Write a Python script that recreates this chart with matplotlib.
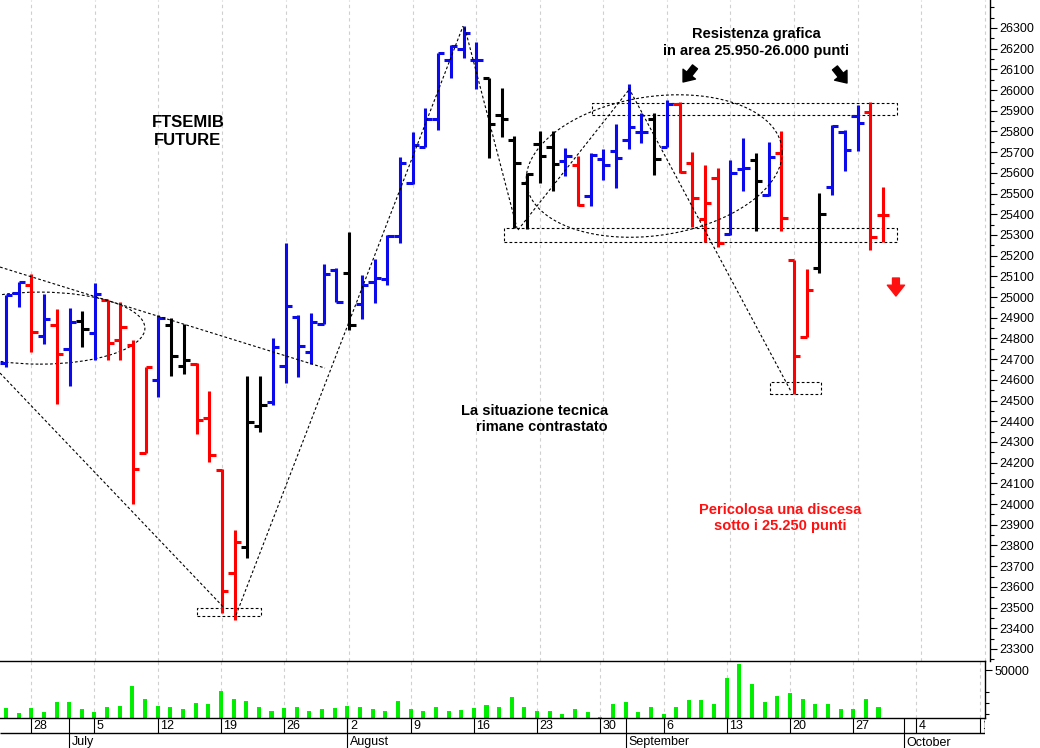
import matplotlib.pyplot as plt
import numpy as np
import pandas as pd
from matplotlib.patches import Rectangle, Ellipse
from matplotlib.ticker import FixedLocator

plt.rcParams['font.family'] = ['Liberation Sans', 'DejaVu Sans']

# FTSEMIB future, daily OHLC (24 Jun - 29 Sep 2021)
opens = [24680, 25020, 25060, 24810, 24865, 24750, 24885, 24825, 24985, 24795,
         24770, 24245, 24600, 24865, 24665, 24675, 24415, 24165, 23665, 23795,
         24375, 24495, 24665, 24905, 24735, 24870, 25130, 25115, 24965, 25075,
         25085, 25295, 25550, 25725, 25860, 26145, 26200, 26145, 26060, 25880,
         25760, 25550, 25740, 25725, 25655, 25640, 25490, 25665, 25705, 25760,
         25795, 25860, 25725, 25935, 25650, 25375, 25575, 25305, 25620, 25660,
         25495, 25695, 25180, 24805, 25140, 25530, 25795, 25875, 25895, 25395]
highs = [25010, 25075, 25110, 25015, 24940, 24945, 24935, 25070, 24985, 24975,
         24795, 24660, 24915, 24900, 24870, 24680, 24545, 24170, 23875, 24620,
         24620, 24800, 25260, 24915, 24925, 25160, 25140, 25315, 25105, 25185,
         25300, 25675, 25795, 25915, 26180, 26220, 26310, 26230, 26060, 26010,
         25780, 25600, 25800, 25800, 25720, 25680, 25695, 25715, 25835, 26030,
         25890, 25890, 25950, 25940, 25700, 25640, 25625, 25660, 25770, 25695,
         25750, 25800, 25180, 25135, 25505, 25830, 25805, 25930, 25940, 25530]
lows = [24660, 24950, 24735, 24775, 24485, 24570, 24760, 24695, 24695, 24695,
        24000, 24245, 24515, 24620, 24630, 24340, 24205, 23475, 23440, 23740,
        24350, 24480, 24585, 24615, 24675, 24870, 24975, 24840, 24895, 24970,
        25060, 25260, 25545, 25725, 25805, 26060, 26155, 26005, 25670, 25775,
        25335, 25330, 25550, 25510, 25585, 25440, 25440, 25565, 25525, 25715,
        25745, 25590, 25725, 25600, 25340, 25265, 25240, 25300, 25510, 25320,
        25490, 25320, 24530, 24805, 25115, 25495, 25610, 25705, 25225, 25265]
closes = [25010, 25075, 24830, 24895, 24725, 24880, 24845, 25015, 24780, 24855,
          24170, 24660, 24900, 24715, 24695, 24405, 24235, 23580, 23815, 24395,
          24480, 24760, 24955, 24765, 24880, 25110, 24975, 24865, 25060, 25090,
          25295, 25650, 25735, 25860, 26180, 26215, 26275, 26145, 25835, 25860,
          25650, 25595, 25680, 25645, 25680, 25445, 25685, 25640, 25670, 25820,
          25795, 25665, 25935, 25605, 25480, 25455, 25260, 25600, 25625, 25560,
          25675, 25380, 24715, 25035, 25400, 25825, 25710, 25840, 25290, 25395]
# 1 = rialzo (blu), -1 = ribasso (rosso), 0 = neutro (nero)
trend = [1, 1, -1, 1, -1, 1, 0, 1, -1, -1,
         -1, -1, 1, 0, 0, -1, -1, -1, -1, 0,
         0, 1, 1, 1, 1, 1, 1, 0, 1, 1,
         1, 1, 1, 1, 1, 1, 1, 1, 0, 0,
         0, 0, 0, 0, 1, -1, 1, 1, 1, 1,
         1, 0, 1, -1, -1, -1, -1, 1, 1, 0,
         1, -1, -1, -1, 0, 1, 1, 1, -1, -1]
volumes = [15200, 10600, 15200, 12100, 20600, 20600, 14300, 12100, 16600, 17300,
           35700, 23600, 17600, 16100, 14300, 19700, 19100, 30900, 23600, 21800,
           16600, 13000, 15700, 16600, 12700, 14300, 15200, 17600, 16100, 14300,
           12700, 21800, 14600, 13000, 16100, 13000, 13600, 15700, 17900, 16100,
           25200, 16100, 13000, 13000, 9700, 14300, 12100, 7000, 18800, 20600,
           12100, 16100, 10000, 16100, 22700, 22700, 19400, 42500, 55200, 37300,
           20900, 26600, 28800, 23600, 19400, 19400, 14300, 14300, 23600, 16100]

price_ticks = list(range(23300, 26301, 100))
dates = pd.bdate_range('2021-06-24', '2021-10-20')

W, H = 1040, 748


def px_box(x0, y0, x1, y1):
    return [x0 / W, 1 - y1 / H, (x1 - x0) / W, (y1 - y0) / H]


x = np.arange(len(opens))
pos = np.arange(len(dates))
mondays = pos[dates.weekday == 0]
month_starts = pos[1:][dates.month[1:] != dates.month[:-1]]
xlim = (-0.47, 77.42)

color_map = {1: '#0a0aec', -1: '#ff0000', 0: '#000000'}
cols = [color_map[t] for t in trend]

fig = plt.figure(figsize=(10.4, 7.48), dpi=100)
ax = fig.add_axes(px_box(0, 0, 990, 661))
axv = fig.add_axes(px_box(0, 661, 985, 718))
axd = fig.add_axes(px_box(0, 718, 985, 748))

# --- price panel
for m in mondays:
    ax.axvline(m, color='#cfcfcf', lw=0.8, ls=(0, (3, 3)), zorder=0)
    axv.axvline(m, color='#cfcfcf', lw=0.8, ls=(0, (3, 3)), zorder=0)

ax.vlines(x, lows, highs, colors=cols, lw=2.2)
ax.hlines(opens, x - 0.5, x, colors=cols, lw=2.2)
ax.hlines(closes, x, x + 0.5, colors=cols, lw=2.2)

ax.set_xlim(*xlim)
ax.set_ylim(23242, 26435)
for s in ['left', 'top', 'bottom']:
    ax.spines[s].set_visible(False)
ax.spines['right'].set_linewidth(1)
ax.set_xticks([])
ax.yaxis.tick_right()
ax.yaxis.set_major_locator(FixedLocator(price_ticks))
ax.yaxis.set_minor_locator(FixedLocator(list(range(23250, 26436, 50))))
ax.tick_params(axis='y', which='major', length=5, width=0.8, pad=2, labelsize=9)
ax.tick_params(axis='y', which='minor', length=3, width=0.8)

# dashed study lines
dash = dict(color='black', lw=0.8, ls=(0, (2.5, 2)))
ax.plot([-0.47, 25.1], [25145, 24657], **dash)
ax.plot([-0.47, 17.1], [24633, 23503], **dash)
ax.plot([18.1, 35.96], [23464, 26309], **dash)
ax.plot([36.1, 40.2], [26300, 25334], **dash)
ax.plot([40.28, 49.0], [25324, 26000], **dash)
ax.plot([49.0, 61.8], [26010, 24540], **dash)
ax.add_patch(Ellipse((2.68, 24850), 16.5, 348, fill=False, **dash))
t = np.linspace(0, 2 * np.pi, 300)
ax.plot(51.0 + 10.07 * np.cos(t),
        25633 + 338 * np.sin(t) + 6.45 * 10.07 * np.cos(t), **dash)
for (i0, i1, p0, p1) in [(46.08, 70.08, 25880, 25936),
                         (39.18, 70.08, 25265, 25332),
                         (60.11, 64.12, 24532, 24588),
                         (15.05, 20.04, 23459, 23496)]:
    ax.add_patch(Rectangle((i0, p0), i1 - i0, p1 - p0, fill=False, **dash))

# arrows
arr = 'simple,head_length=0.6,head_width=0.95,tail_width=0.38'
ax.annotate('', xy=(53.27, 26039), xytext=(54.21, 26112),
            arrowprops=dict(arrowstyle=arr, color='black', mutation_scale=12,
                            shrinkA=0, shrinkB=0))
ax.annotate('', xy=(66.17, 26034), xytext=(65.22, 26107),
            arrowprops=dict(arrowstyle=arr, color='black', mutation_scale=12,
                            shrinkA=0, shrinkB=0))
ax.annotate('', xy=(70.02, 25005), xytext=(70.02, 25092),
            arrowprops=dict(arrowstyle=arr, color='#ff1010', mutation_scale=13,
                            shrinkA=0, shrinkB=0))

# texts
ax.text(14.32, 25800, 'FTSEMIB\nFUTURE', ha='center', va='center',
        fontsize=12, fontweight='bold', linespacing=1.2)
ax.text(59.0, 26230, 'Resistenza grafica\nin area 25.950-26.000 punti',
        ha='center', va='center', fontsize=10.5, fontweight='bold',
        linespacing=1.2)
ax.text(47.36, 24411, 'La situazione tecnica\nrimane contrastato',
        ha='right', va='center', multialignment='right', fontsize=10.5,
        fontweight='bold', linespacing=1.2)
ax.text(60.94, 23933, 'Pericolosa una discesa\nsotto i 25.250 punti',
        ha='center', va='center', fontsize=10.5, fontweight='bold',
        color='#ff1010', linespacing=1.2)

# --- volume panel
axv.bar(x, volumes, width=0.32, color='#00ee00')
axv.set_xlim(*xlim)
axv.set_ylim(6400, 58200)
axv.spines['left'].set_visible(False)
for s in ['top', 'bottom', 'right']:
    axv.spines[s].set_linewidth(1)
axv.set_xticks([])
axv.yaxis.tick_right()
axv.yaxis.set_major_locator(FixedLocator([50000]))
axv.yaxis.set_minor_locator(FixedLocator([10000, 20000, 30000]))
axv.tick_params(axis='y', which='major', length=5, width=0.8, pad=2, labelsize=9)
axv.tick_params(axis='y', which='minor', length=3, width=0.8)

# --- date rows
axd.set_xlim(*xlim)
axd.set_ylim(30, 0)
axd.axis('off')
axd.hlines(15, xlim[0], xlim[1], color='black', lw=1)
axd.vlines(xlim[1], 0, 15, color='black', lw=1)
for m in mondays:
    if m > xlim[1]:
        continue
    axd.vlines(m, 0, 15, color='black', lw=0.8)
    axd.text(m + 0.2, 8, str(dates[m].day), ha='left', va='center',
             fontsize=9, clip_on=True)
for m in month_starts:
    if m > xlim[1]:
        continue
    axd.vlines(m, 0, 30, color='black', lw=0.8)
    axd.text(m + 0.2, 24.5, dates[m].strftime('%B'), ha='left', va='center',
             fontsize=9)

fig.savefig('out.png', dpi=100)
plt.close(fig)
